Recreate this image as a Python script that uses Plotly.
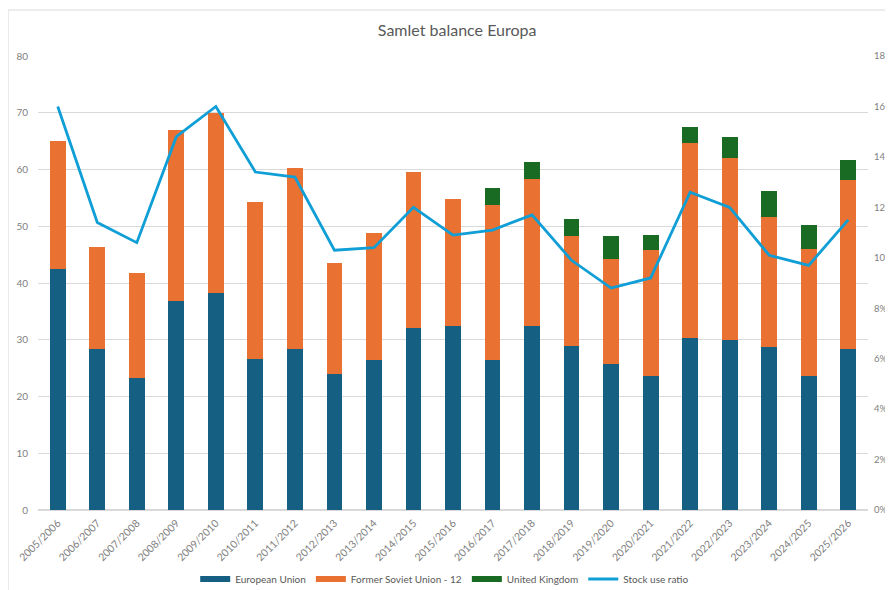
import plotly.graph_objects as go

seasons = ["2005/2006", "2006/2007", "2007/2008", "2008/2009", "2009/2010", "2010/2011",
           "2011/2012", "2012/2013", "2013/2014", "2014/2015", "2015/2016", "2016/2017",
           "2017/2018", "2018/2019", "2019/2020", "2020/2021", "2021/2022", "2022/2023",
           "2023/2024", "2024/2025", "2025/2026"]
european_union = [42.5, 28.4, 23.3, 36.9, 38.2, 26.6, 28.3, 23.9, 26.5, 32.1, 32.4, 26.4,
                  32.4, 28.9, 25.7, 23.6, 30.3, 30.0, 28.7, 23.7, 28.3]
former_soviet_union_12 = [22.5, 17.9, 18.5, 30.1, 31.8, 27.6, 31.9, 19.7, 22.3, 27.5, 22.4, 27.3,
                          26.0, 19.3, 18.5, 22.2, 34.3, 32.1, 23.0, 22.3, 29.8]
united_kingdom = [None, None, None, None, None, None, None, None, None, None, None, 3.1,
                  2.9, 3.1, 4.0, 2.7, 2.9, 3.7, 4.5, 4.2, 3.6]
stock_use_ratio = [0.160, 0.114, 0.106, 0.148, 0.160, 0.134, 0.132, 0.103, 0.104, 0.120, 0.109,
                   0.111, 0.117, 0.099, 0.088, 0.092, 0.126, 0.120, 0.101, 0.097, 0.115]

FONT = "Lato, 'Open Sans', sans-serif"
GRAY = "#808080"
GRID = "#d9d9d9"
C_EU, C_FSU, C_UK, C_LINE = "#156082", "#E97132", "#196B24", "#0F9ED5"

fig = go.Figure()
fig.add_trace(go.Bar(x=seasons, y=european_union, name="European Union", showlegend=False,
                     marker=dict(color=C_EU, line=dict(width=0))))
fig.add_trace(go.Bar(x=seasons, y=former_soviet_union_12, name="Former Soviet Union - 12",
                     showlegend=False, marker=dict(color=C_FSU, line=dict(width=0))))
fig.add_trace(go.Bar(x=seasons, y=united_kingdom, name="United Kingdom", showlegend=False,
                     marker=dict(color=C_UK, line=dict(width=0))))
fig.add_trace(go.Scatter(x=seasons, y=stock_use_ratio, name="Stock use ratio", mode="lines",
                         line=dict(color=C_LINE, width=2.8), yaxis="y2", showlegend=False))

# legend entries drawn as wide swatches, like the original
for name, color, w in [("European Union", C_EU, 6), ("Former Soviet Union - 12", C_FSU, 6),
                       ("United Kingdom", C_UK, 6), ("Stock use ratio", C_LINE, 2.8)]:
    fig.add_trace(go.Scatter(x=[None], y=[None], mode="lines", name=name,
                             line=dict(color=color, width=w), showlegend=True))

fig.update_layout(
    width=885, height=582,
    margin=dict(l=30, r=25, t=48, b=80, autoexpand=False),
    paper_bgcolor="white", plot_bgcolor="white",
    barmode="stack", bargap=0.6,
    font=dict(family=FONT, size=10, color=GRAY),
    title=dict(text="Samlet balance Europa", x=0.505, xref="paper", xanchor="center",
               y=0.962, yref="container", yanchor="middle",
               font=dict(family=FONT, size=16, color="#595959")),
    xaxis=dict(tickangle=-45, tickfont=dict(size=10.5, color=GRAY), showgrid=False,
               showline=True, linecolor=GRID, linewidth=1, ticks="", automargin=False,
               ticklabelstandoff=2),
    yaxis=dict(range=[0, 80], dtick=10, showgrid=True, gridcolor=GRID, gridwidth=1,
               zeroline=True, zerolinecolor=GRID, tickfont=dict(size=10, color=GRAY),
               ticklabelstandoff=9, automargin=False),
    yaxis2=dict(range=[0, 0.18], dtick=0.02, tickformat=".0%", overlaying="y", side="right",
                showgrid=False, zeroline=False, tickfont=dict(size=9.5, color=GRAY),
                ticklabelstandoff=5, automargin=False),
    legend=dict(orientation="h", x=0.49, xanchor="center", y=-0.152, yanchor="middle",
                traceorder="normal", font=dict(size=10, color="#595959"),
                bgcolor="rgba(0,0,0,0)", itemwidth=30),
    shapes=[dict(type="rect", xref="paper", yref="paper", x0=-0.0361, x1=1.06,
                 y0=-0.25, y1=1.1013, line=dict(color=GRID, width=1), layer="below")],
)

fig.write_html("out.html")
